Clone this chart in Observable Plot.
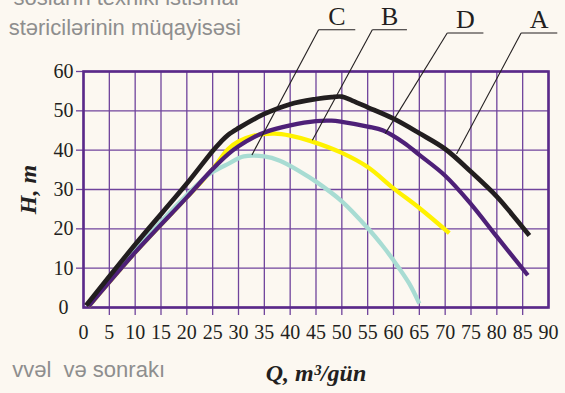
<!DOCTYPE html>
<html><head><meta charset="utf-8">
<script src="https://cdn.jsdelivr.net/npm/d3@7"></script>
<script src="https://cdn.jsdelivr.net/npm/@observablehq/plot@0.6"></script>
<style>
html,body{margin:0;padding:0;background:#fcf8f1;}
#chart{width:565px;height:393px;overflow:hidden;position:relative;}
#chart svg text{font-family:"Liberation Serif", "Times New Roman", serif;}
#chart svg text.bgtext{font-family:"Liberation Sans", Arial, sans-serif;}
</style></head><body><div id="chart"></div>
<script>
// tick values
const xTicks = [0,5,10,15,20,25,30,35,40,45,50,55,60,65,70,75,80,85,90];
const xInnerTicks = [5,10,15,20,25,30,35,40,45,50,55,60,65,70,75,80,85];
const yTicks = [0,10,20,30,40,50,60];
const yInnerTicks = [10,20,30,40,50,60];

// curve A (black)
const qA = [0.5,10,20,25,26.5,28,30,35,40,45,48,50,52,55,60,65,70,75,80,83,86.3];
const hA = [0.5,16,31.5,39.8,42,43.9,45.6,49.2,51.7,53,53.5,53.6,52.6,50.9,48,44.3,40.3,34.5,28.2,23.6,18.3];
// curve D (purple)
const qD = [1,10,20,25,28,30,33,35,40,45,48,50,55,58,62,65,70,75,80,86];
const hD = [0.3,14,28,35.2,39,41,43.3,44.5,46.3,47.4,47.5,47.2,46,45,41.9,38.8,33.5,26.3,18,8.2];
// curve B (yellow)
const qB = [1,10,20,25,28,30,33,37,40,44,50,55,60,65,70.8];
const hB = [0.3,14,28,35.2,40.3,42.2,43.7,44.2,43.7,42.3,39.3,35.7,30.3,25.3,18.9];
// curve C (light teal)
const qC = [1,10,15,20,24,26,28,31,35,38,42,45,50,55,58,60,63,65];
const hC = [0.5,14.5,21.8,28.6,33.6,35.2,36.5,38.4,38.4,37.3,34.5,32,27,20.2,15.5,12,6.2,1];

// callouts
const calloutLabels = ["C","B","D","A"];
const calloutCurveQ = [32.6,44.3,58.4,72.2];
const calloutCurveH = [38.8,42.5,44.2,39];
const calloutBarQ0 = [45.5,55.9,70.4,84.7];
const calloutBarQ1 = [52.6,62.6,77.4,91.7];
const calloutBarH = [70.6,70.6,69.8,69.8];

const toRows = (q,h) => q.map((v,i)=>({Q:v,H:h[i]}));
const callouts = calloutLabels.map((l,i)=>({label:l, cq:calloutCurveQ[i], ch:calloutCurveH[i], q0:calloutBarQ0[i], q1:calloutBarQ1[i], bh:calloutBarH[i]}));

const gridColor = "#70449c";
const frameColor = "#5a2a8a";
const ink = "#231f20";
const serif = "Liberation Serif";
const lineOpts = {x:"Q", y:"H", curve:"catmull-rom", strokeWidth:4.5, strokeLinecap:"butt", strokeLinejoin:"round"};

const chart = Plot.plot({
  width:565, height:393,
  marginLeft:83, marginRight:17, marginTop:71, marginBottom:86,
  x:{domain:[0,90]},
  y:{domain:[0,60]},
  style:{background:"transparent", fontFamily:serif, fontSize:"20px", color:ink, overflow:"visible"},
  marks:[
    Plot.gridX(xTicks, {stroke:gridColor, strokeOpacity:1, strokeWidth:1.3}),
    Plot.gridY(yTicks, {stroke:gridColor, strokeOpacity:1, strokeWidth:1.3}),
    Plot.axisX(xInnerTicks, {tickSize:8, stroke:gridColor, strokeWidth:1.3, tickFormat:()=>"", label:null}),
    Plot.axisX(xTicks, {tickSize:0, tickPadding:17, fill:ink, fontSize:20, label:null}),
    Plot.axisY(yInnerTicks, {tickSize:7, stroke:gridColor, strokeWidth:1.3, tickFormat:()=>"", label:null}),
    Plot.axisY(yTicks, {tickSize:0, tickPadding:20, textAnchor:"middle", fill:ink, fontSize:20, label:null}),
    Plot.frame({stroke:frameColor, strokeWidth:2.6}),
    Plot.line(toRows(qB,hB), {...lineOpts, stroke:"#fff200", strokeWidth:4.3}),
    Plot.line(toRows(qC,hC), {...lineOpts, stroke:"#a8dcd3", strokeWidth:4.3}),
    Plot.line(toRows(qD,hD), {...lineOpts, stroke:"#4e2078", strokeWidth:4.3}),
    Plot.line(toRows(qA,hA), {...lineOpts, stroke:"#221e1f", strokeWidth:4.7}),
    Plot.link(callouts, {x1:"q0", y1:"bh", x2:"cq", y2:"ch", stroke:ink, strokeWidth:1.1, clip:false}),
    Plot.link(callouts, {x1:"q0", y1:"bh", x2:"q1", y2:"bh", stroke:ink, strokeWidth:1.1, clip:false}),
    Plot.text(callouts, {x:d=>(d.q0+d.q1)/2, y:"bh", text:"label", dy:-5, lineAnchor:"bottom", fontSize:26, fill:ink}),
    Plot.text(["H, m"], {frameAnchor:"left", dx:-48, rotate:-90, lineAnchor:"bottom", textAnchor:"middle", fontSize:24, fontWeight:"bold", fontStyle:"italic", fill:ink}),
    Plot.text(["Q, m³/gün"], {frameAnchor:"bottom", dy:73, lineAnchor:"bottom", textAnchor:"middle", fontSize:24, fontWeight:"bold", fontStyle:"italic", fill:ink})
  ]
});

// faded slide text behind the chart
const bgText = [
  {t:"sosların texniki istismar", x:241, y:5, anchor:"end"},
  {t:"stəricilərinin müqayisəsi", x:241, y:35, anchor:"end"},
  {t:"vvəl  və sonrakı", x:165, y:377, anchor:"end"}
];
const svg = d3.select(chart);
const bg = svg.insert("g", ":first-child");
bg.selectAll("text").data(bgText).join("text")
  .attr("class","bgtext")
  .attr("x", d=>d.x).attr("y", d=>d.y).attr("text-anchor", d=>d.anchor)
  .style("white-space","pre")
  .attr("font-size",22).attr("fill","#8e8e8e")
  .text(d=>d.t);

document.getElementById("chart").appendChild(chart);
</script></body></html>
